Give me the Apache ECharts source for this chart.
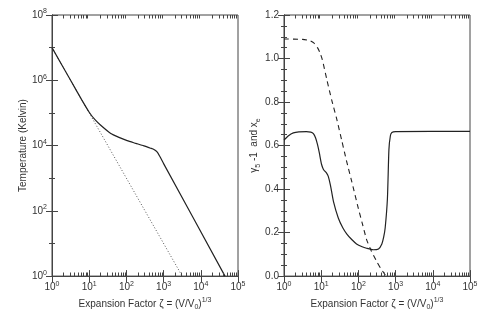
<!DOCTYPE html>
<html><head><meta charset="utf-8">
<script src="https://cdn.jsdelivr.net/npm/echarts@6/dist/echarts.min.js"></script>
<style>html,body{margin:0;padding:0;background:#fff}#c{width:485px;height:316px}</style>
</head><body><div id="c"></div>
<script>
// ---- data ----
// Left panel: temperature vs expansion factor
var tempZeta = [1, 3.16, 6.31, 10, 14.1, 20.4, 38, 63.1, 105, 178, 295, 447, 550, 676, 794, 1000, 44700];
var tempSolid = [1e7, 1e6, 2.51e5, 1.05e5, 6.3e4, 4.17e4, 2.34e4, 1.78e4, 1.41e4, 1.17e4, 9.8e3, 8.3e3, 7.6e3, 6.3e3, 4.6e3, 2.8e3, 1];
var adiabZeta = [1, 3162];
var adiabTemp = [1e7, 1];
// Right panel: gamma-1 (solid) and x_e (dashed)
var gZeta = [1, 1.32, 1.78, 2.51, 3.98, 5.25, 6.17, 7.08, 7.94, 8.91, 10.2, 11.5, 12.6, 14.1, 15.5, 17.8, 21.4, 28.8, 38, 49, 66.1, 89.1, 126, 166, 251, 347, 427, 479, 525, 603, 661, 724, 794, 1000, 100000];
var gVal  = [0.625, 0.645, 0.658, 0.663, 0.664, 0.662, 0.655, 0.635, 0.605, 0.566, 0.514, 0.49, 0.482, 0.472, 0.458, 0.416, 0.342, 0.267, 0.222, 0.193, 0.168, 0.148, 0.135, 0.128, 0.121, 0.125, 0.148, 0.18, 0.222, 0.357, 0.58, 0.645, 0.66, 0.664, 0.665];
var xeZeta = [1, 3.16, 5.01, 6.31, 7.94, 9.33, 10.7, 14.1, 19.1, 26.3, 35.5, 47.9, 66.1, 100, 126, 166, 219, 316, 398, 468, 550];
var xeVal  = [1.09, 1.088, 1.082, 1.072, 1.05, 1.025, 0.995, 0.905, 0.81, 0.72, 0.625, 0.53, 0.435, 0.31, 0.245, 0.168, 0.118, 0.065, 0.035, 0.018, 0];
// axis ticks (decade exponents)
var xDecades = [0, 1, 2, 3, 4, 5];
var tDecades = [0, 2, 4, 6, 8];
var yRight = [0, 0.2, 0.4, 0.6, 0.8, 1.0, 1.2];
var minorMult = [2, 3, 4, 5, 6, 7, 8, 9];

// ---- build ----
function lg(v) { return Math.log10(v); }
function pairs(xs, ys, fx, fy) { return xs.map(function (x, i) { return [fx(x), fy(ys[i])]; }); }
function ident(v) { return v; }
function minorTicks(yLo, yHi) {
  var out = [];
  for (var d = 0; d < xDecades.length - 1; d++) minorMult.forEach(function (k) { out.push([xDecades[d] + Math.log10(k), yLo, yHi]); });
  return out;
}

var FONT = 'Liberation Sans, Arial, sans-serif';
var TXT = '#333';
var AX = '#444';
var supRich = {
  b: { fontSize: 10, lineHeight: 14, fontFamily: FONT, color: TXT },
  s: { fontSize: 7, lineHeight: 7, verticalAlign: 'top', fontFamily: FONT, color: TXT }
};
var nameRich = {
  n: { fontSize: 10, lineHeight: 14, fontFamily: FONT, color: TXT },
  sub: { fontSize: 7, lineHeight: 9, verticalAlign: 'bottom', fontFamily: FONT, color: TXT },
  sup: { fontSize: 7, lineHeight: 7, verticalAlign: 'top', fontFamily: FONT, color: TXT }
};
var xName = '{n|Expansion Factor ζ = (V/V}{sub|0}{n|)}{sup|1/3}';

function xAxes(grid) {
  var base = { type: 'value', min: xDecades[0], max: xDecades[xDecades.length - 1], interval: 1, gridIndex: grid, splitLine: { show: false } };
  return [
    Object.assign({}, base, {
      position: 'bottom',
      axisLine: { show: true, lineStyle: { color: AX, width: 1 } },
      axisTick: { show: true, inside: true, length: 6, lineStyle: { color: AX } },
      axisLabel: { show: true, margin: 4, formatter: function (v) { return '{b|10}{s|' + v + '}'; }, rich: supRich },
      name: xName, nameLocation: 'middle', nameGap: 18, nameTextStyle: { rich: nameRich }
    }),
    Object.assign({}, base, {
      position: 'top',
      axisLine: { show: true, lineStyle: { color: AX, width: 1 } },
      axisTick: { show: true, inside: true, length: 6, lineStyle: { color: AX } },
      axisLabel: { show: false }
    })
  ];
}

function minorTickRender(params, api) {
  var pb = api.coord([api.value(0), api.value(1)]);
  var pt = api.coord([api.value(0), api.value(2)]);
  var x = Math.round(pb[0]) + 0.5;
  var yb = Math.round(pb[1]), yt = Math.round(pt[1]);
  var st = { stroke: AX, lineWidth: 1 };
  return { type: 'group', children: [
    { type: 'line', shape: { x1: x, y1: yb, x2: x, y2: yb - 3.5 }, style: st },
    { type: 'line', shape: { x1: x, y1: yt, x2: x, y2: yt + 3.5 }, style: st }
  ] };
}

var gridBase = { show: true, borderColor: AX, borderWidth: 1, backgroundColor: 'transparent', top: 15, width: 186, height: 268 };
var option = {
  animation: false,
  backgroundColor: '#fff',
  textStyle: { fontFamily: FONT },
  grid: [
    Object.assign({ left: 52 }, gridBase),
    Object.assign({ left: 284 }, gridBase)
  ],
  xAxis: xAxes(0).concat(xAxes(1)),
  yAxis: [
    { type: 'value', gridIndex: 0, position: 'left', min: tDecades[0], max: tDecades[tDecades.length - 1], interval: 2,
      splitLine: { show: false },
      axisLine: { show: true, lineStyle: { color: AX } },
      axisTick: { show: true, inside: true, length: 6, lineStyle: { color: AX } },
      minorTick: { show: true, splitNumber: 2, length: 3, lineStyle: { color: AX } },
      axisLabel: { margin: 5, formatter: function (v) { return '{b|10}{s|' + v + '}'; }, rich: supRich },
      name: 'Temperature (Kelvin)', nameLocation: 'middle', nameGap: 20,
      nameTextStyle: { fontSize: 10, fontFamily: FONT, color: TXT } },
    { type: 'value', gridIndex: 0, position: 'right', min: tDecades[0], max: tDecades[tDecades.length - 1], interval: 2,
      splitLine: { show: false },
      axisLine: { show: true, lineStyle: { color: AX } },
      axisTick: { show: true, inside: true, length: 6, lineStyle: { color: AX } },
      minorTick: { show: true, splitNumber: 2, length: 3, lineStyle: { color: AX } },
      axisLabel: { show: false } },
    { type: 'value', gridIndex: 1, position: 'left', min: yRight[0], max: yRight[yRight.length - 1], interval: 0.2,
      splitLine: { show: false },
      axisLine: { show: true, lineStyle: { color: AX } },
      axisTick: { show: true, inside: true, length: 6, lineStyle: { color: AX } },
      minorTick: { show: true, splitNumber: 4, length: 3, lineStyle: { color: AX } },
      axisLabel: { margin: 5, fontSize: 10, color: TXT, fontFamily: FONT, formatter: function (v) { return v.toFixed(1); } },
      name: '{n|γ}{sub|5}{n| -1  and x}{sub|e}', nameLocation: 'middle', nameGap: 20,
      nameTextStyle: { rich: nameRich } },
    { type: 'value', gridIndex: 1, position: 'right', min: yRight[0], max: yRight[yRight.length - 1], interval: 0.2,
      splitLine: { show: false },
      axisLine: { show: true, lineStyle: { color: AX } },
      axisTick: { show: true, inside: true, length: 6, lineStyle: { color: AX } },
      minorTick: { show: true, splitNumber: 4, length: 3, lineStyle: { color: AX } },
      axisLabel: { show: false } }
  ],
  series: [
    { type: 'custom', xAxisIndex: 0, yAxisIndex: 0, data: minorTicks(tDecades[0], tDecades[tDecades.length - 1]),
      renderItem: minorTickRender, clip: false, silent: true, z: 5 },
    { type: 'custom', xAxisIndex: 2, yAxisIndex: 2, data: minorTicks(yRight[0], yRight[yRight.length - 1]),
      renderItem: minorTickRender, clip: false, silent: true, z: 5 },
    { type: 'line', xAxisIndex: 0, yAxisIndex: 0, data: pairs(adiabZeta, adiabTemp, lg, lg), showSymbol: false,
      lineStyle: { color: '#555', width: 1, type: [1, 2] }, z: 2 },
    { type: 'line', xAxisIndex: 0, yAxisIndex: 0, data: pairs(tempZeta, tempSolid, lg, lg), showSymbol: false, smooth: 0.2,
      lineStyle: { color: '#222', width: 1.2 }, z: 3 },
    { type: 'line', xAxisIndex: 2, yAxisIndex: 2, data: pairs(xeZeta, xeVal, lg, ident), showSymbol: false, smooth: 0.2,
      lineStyle: { color: '#222', width: 1.1, type: [5, 4] }, z: 2 },
    { type: 'line', xAxisIndex: 2, yAxisIndex: 2, data: pairs(gZeta, gVal, lg, ident), showSymbol: false, smooth: 0.2,
      lineStyle: { color: '#222', width: 1.2 }, z: 3 }
  ]
};
var chart = echarts.init(document.getElementById('c'), null, { renderer: 'canvas' });
chart.setOption(option);
</script></body></html>
